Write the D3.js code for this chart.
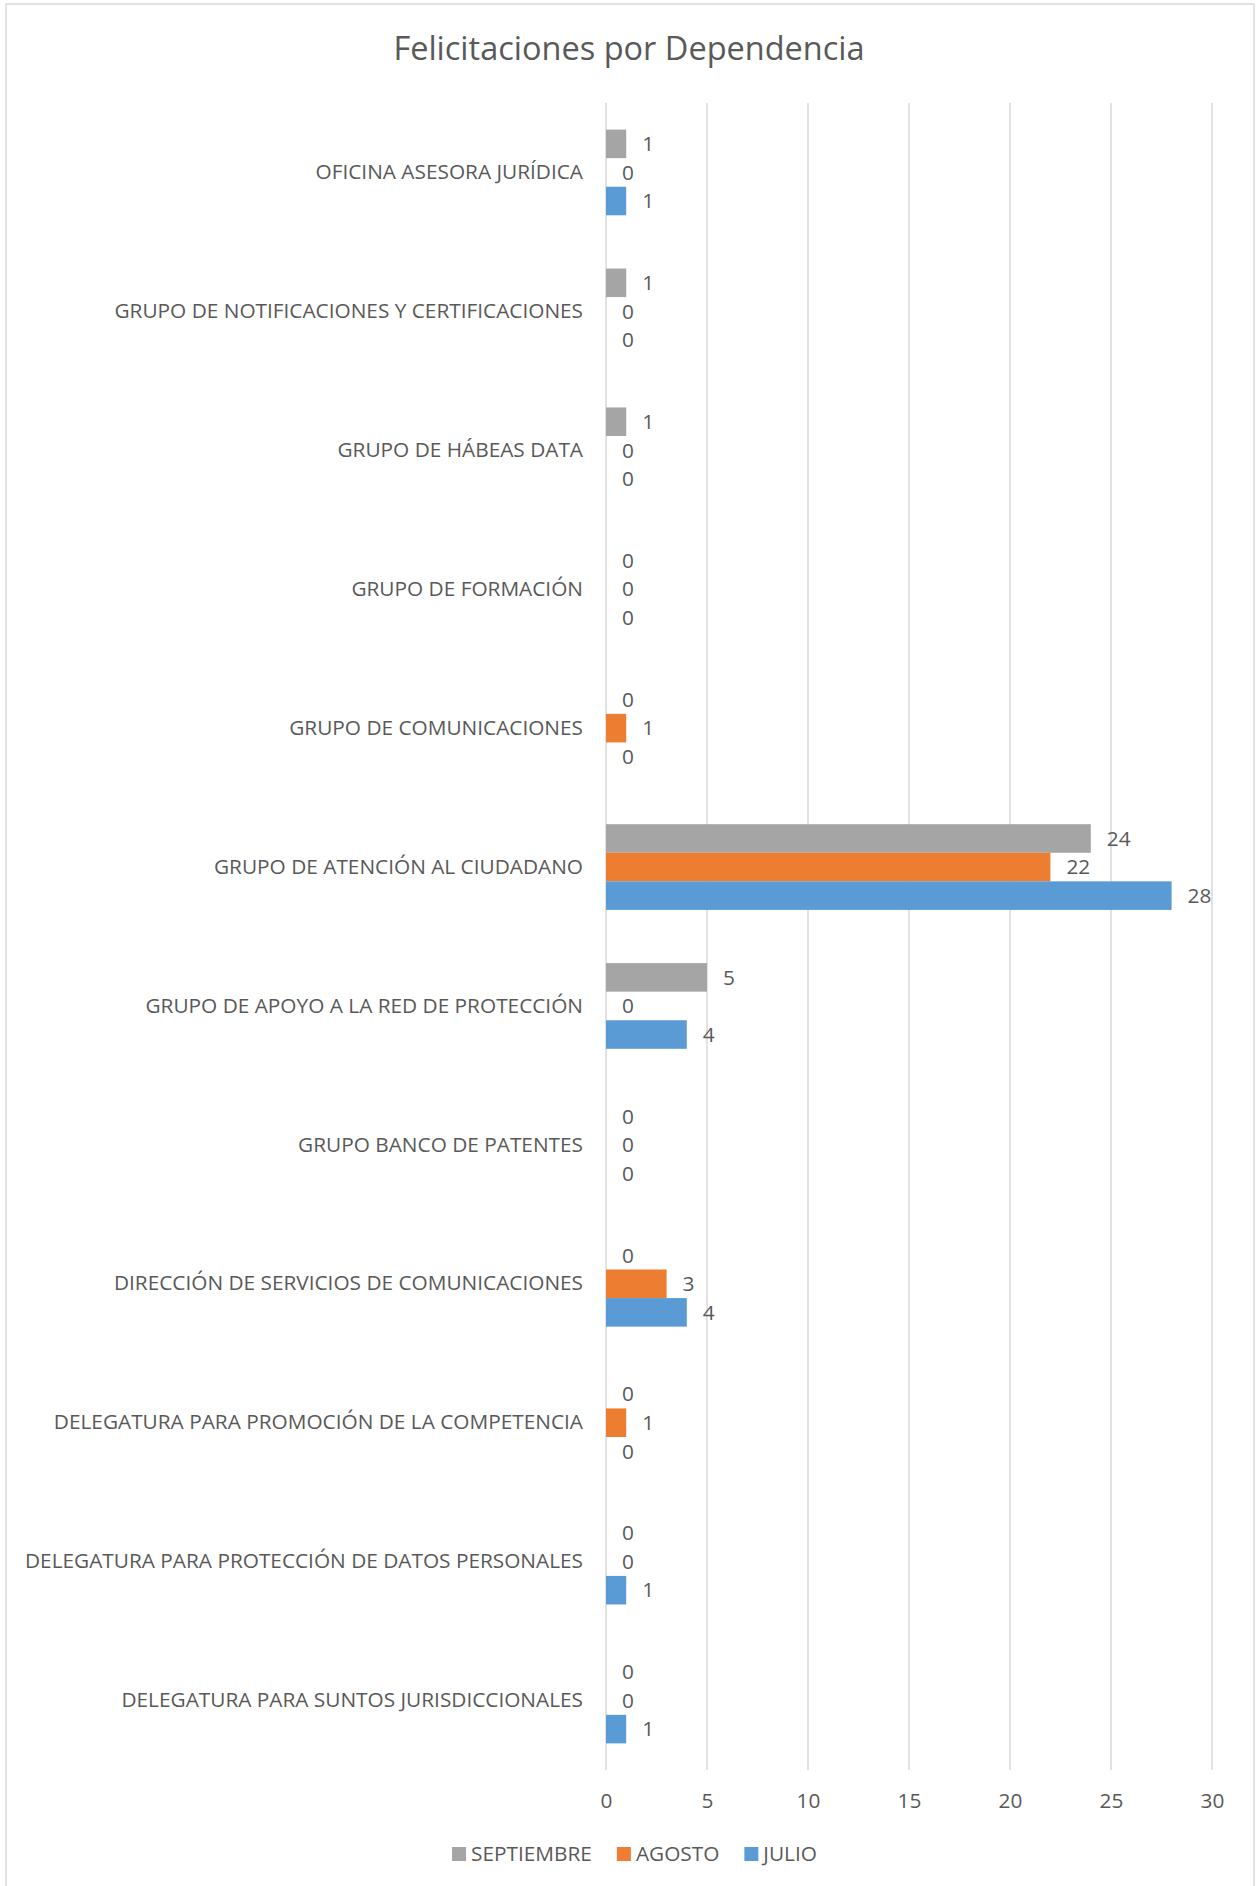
<!DOCTYPE html>
<html lang="es">
<head>
	<meta charset="UTF-8" />
	<script src="https://d3js.org/d3.v7.min.js"></script>
	<style type="text/css">
		body { margin: 0; background: #fff; }
		text { font-family: "Open Sans", sans-serif; fill: #595959; }
	</style>
	<title>Felicitaciones por Dependencia</title>
</head>
<body>
<script type="text/javascript" charset="UTF-8">
	// Data (top to bottom as shown in the chart)
	var dependencias = [
		"OFICINA ASESORA JURÍDICA",
		"GRUPO DE NOTIFICACIONES Y CERTIFICACIONES",
		"GRUPO DE HÁBEAS DATA",
		"GRUPO DE FORMACIÓN",
		"GRUPO DE COMUNICACIONES",
		"GRUPO DE ATENCIÓN AL CIUDADANO",
		"GRUPO DE APOYO A LA RED DE PROTECCIÓN",
		"GRUPO BANCO DE PATENTES",
		"DIRECCIÓN DE SERVICIOS DE COMUNICACIONES",
		"DELEGATURA PARA PROMOCIÓN DE LA COMPETENCIA",
		"DELEGATURA PARA PROTECCIÓN DE DATOS PERSONALES",
		"DELEGATURA PARA SUNTOS JURISDICCIONALES"
	];
	var series = ["SEPTIEMBRE", "AGOSTO", "JULIO"];
	var septiembre = [1, 1, 1, 0, 0, 24, 5, 0, 0, 0, 0, 0];
	var agosto     = [0, 0, 0, 0, 1, 22, 0, 0, 3, 1, 0, 0];
	var julio      = [1, 0, 0, 0, 0, 28, 4, 0, 4, 0, 1, 1];
	var xTicks = [0, 5, 10, 15, 20, 25, 30];
	var colors = {"SEPTIEMBRE": "#A5A5A5", "AGOSTO": "#ED7D31", "JULIO": "#5B9BD5"};

	var values = {"SEPTIEMBRE": septiembre, "AGOSTO": agosto, "JULIO": julio};
	var fs = "20.8px";

	var W = 1258, H = 1886;
	var margin = {top: 103, right: 46, bottom: 116, left: 606},
	    w = W - margin.left - margin.right,
	    h = H - margin.top - margin.bottom;

	var svg = d3.select("body").append("svg")
	    .attr("width", W)
	    .attr("height", H);

	// chart frame
	svg.append("rect")
	   .attr("x", 6).attr("y", 4)
	   .attr("width", 1248).attr("height", H + 10)
	   .attr("fill", "none")
	   .attr("stroke", "#D9D9D9")
	   .attr("stroke-width", 1.5);

	// title
	svg.append("text")
	   .attr("x", 629)
	   .attr("y", 60)
	   .attr("text-anchor", "middle")
	   .style("font-size", "32.5px")
	   .text("Felicitaciones por Dependencia");

	var g = svg.append("g")
	    .attr("transform", "translate(" + margin.left + "," + margin.top + ")");

	// scales
	var xScale = d3.scaleLinear()
	    .domain([0, 30])
	    .range([0, w]);

	var yScale = d3.scaleBand()
	    .domain(dependencias)
	    .range([0, h])
	    .paddingInner(0.383)
	    .paddingOuter(0.1915);

	var ySub = d3.scaleBand()
	    .domain(series)
	    .range([0, yScale.bandwidth()]);

	// gridlines
	g.selectAll(".grid")
	 .data(xTicks)
	 .enter()
	 .append("line")
	 .attr("class", "grid")
	 .attr("x1", function(d) { return xScale(d); })
	 .attr("x2", function(d) { return xScale(d); })
	 .attr("y1", 0)
	 .attr("y2", h)
	 .attr("stroke", "#D9D9D9")
	 .attr("stroke-width", 1.5);

	// x axis labels
	var xAxis = g.append("g")
	    .attr("class", "x_axis")
	    .attr("transform", "translate(0," + h + ")")
	    .call(d3.axisBottom(xScale).tickValues(xTicks).tickSize(0).tickPadding(23));
	xAxis.select(".domain").remove();
	xAxis.selectAll("text")
	     .style("font-size", fs)
	     .style("font-family", "'Open Sans', sans-serif")
	     .attr("fill", "#595959");

	// category labels
	var yAxis = g.append("g")
	    .attr("class", "y_axis")
	    .call(d3.axisLeft(yScale).tickSize(0).tickPadding(23));
	yAxis.select(".domain").remove();
	yAxis.selectAll("text")
	     .style("font-size", fs)
	     .style("font-family", "'Open Sans', sans-serif")
	     .attr("fill", "#595959");

	// bars
	var groups = g.selectAll(".grupo")
	    .data(dependencias)
	    .enter()
	    .append("g")
	    .attr("class", "grupo")
	    .attr("transform", function(d) { return "translate(0," + yScale(d) + ")"; });

	groups.selectAll(".bar")
	    .data(function(d, i) {
	    	return series.map(function(s) { return {serie: s, value: values[s][i]}; });
	    })
	    .enter()
	    .append("rect")
	    .attr("class", "bar")
	    .attr("x", xScale(0))
	    .attr("y", function(d) { return ySub(d.serie); })
	    .attr("width", function(d) { return xScale(d.value) - xScale(0); })
	    .attr("height", ySub.bandwidth())
	    .attr("fill", function(d) { return colors[d.serie]; });

	// data labels
	groups.selectAll(".label")
	    .data(function(d, i) {
	    	return series.map(function(s) { return {serie: s, value: values[s][i]}; });
	    })
	    .enter()
	    .append("text")
	    .attr("class", "label")
	    .attr("x", function(d) { return xScale(d.value) + 16; })
	    .attr("y", function(d) { return ySub(d.serie) + ySub.bandwidth() / 2; })
	    .attr("dy", "0.35em")
	    .style("font-size", fs)
	    .text(function(d) { return d.value; });

	// legend
	var legend = svg.append("g").attr("class", "legend");
	var lx = 0;
	series.forEach(function(s) {
		var item = legend.append("g").attr("transform", "translate(" + lx + ",0)");
		item.append("rect")
		    .attr("x", 0).attr("y", -7)
		    .attr("width", 14).attr("height", 14)
		    .attr("fill", colors[s]);
		var t = item.append("text")
		    .attr("x", 19)
		    .attr("dy", "0.35em")
		    .style("font-size", fs)
		    .text(s);
		lx += 19 + t.node().getComputedTextLength() + 25;
	});
	var legendW = lx - 25;
	legend.attr("transform", "translate(" + (634.5 - legendW / 2) + ",1854)");

</script>
</body>
</html>
